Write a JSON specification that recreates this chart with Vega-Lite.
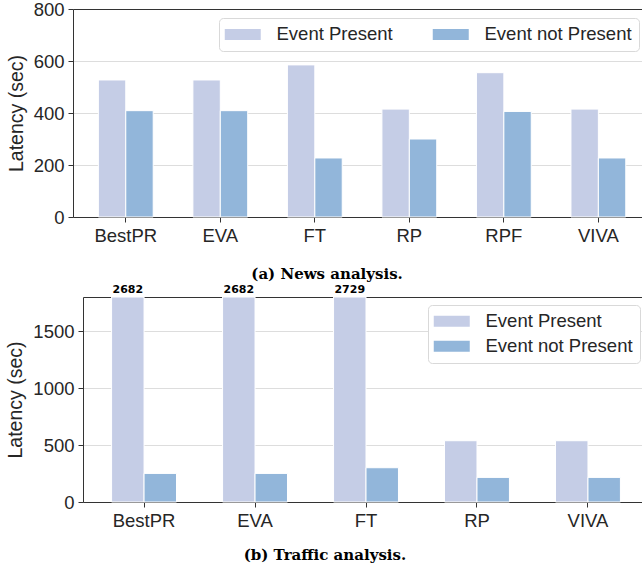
{
  "$schema": "https://vega.github.io/schema/vega-lite/v6.json",
  "background": "white",
  "padding": {"left": 5, "top": 0, "right": 0, "bottom": 0},
  "datasets": {
    "news": [
      {"system": "BestPR", "event": "Event Present", "latency": 527},
      {"system": "BestPR", "event": "Event not Present", "latency": 409},
      {"system": "EVA", "event": "Event Present", "latency": 527},
      {"system": "EVA", "event": "Event not Present", "latency": 409},
      {"system": "FT", "event": "Event Present", "latency": 585},
      {"system": "FT", "event": "Event not Present", "latency": 227},
      {"system": "RP", "event": "Event Present", "latency": 415},
      {"system": "RP", "event": "Event not Present", "latency": 300},
      {"system": "RPF", "event": "Event Present", "latency": 555},
      {"system": "RPF", "event": "Event not Present", "latency": 406},
      {"system": "VIVA", "event": "Event Present", "latency": 415},
      {"system": "VIVA", "event": "Event not Present", "latency": 227}
    ],
    "traffic": [
      {"system": "BestPR", "event": "Event Present", "latency": 2682},
      {"system": "BestPR", "event": "Event not Present", "latency": 251},
      {"system": "EVA", "event": "Event Present", "latency": 2682},
      {"system": "EVA", "event": "Event not Present", "latency": 251},
      {"system": "FT", "event": "Event Present", "latency": 2729},
      {"system": "FT", "event": "Event not Present", "latency": 301},
      {"system": "RP", "event": "Event Present", "latency": 538},
      {"system": "RP", "event": "Event not Present", "latency": 216},
      {"system": "VIVA", "event": "Event Present", "latency": 538},
      {"system": "VIVA", "event": "Event not Present", "latency": 216}
    ]
  },
  "config": {
    "view": {"stroke": null},
    "font": "Liberation Sans",
    "axis": {
      "labelFont": "Liberation Sans", "labelFontSize": 18.5, "labelColor": "#262626",
      "titleFont": "Liberation Sans", "titleFontSize": 19.5, "titleFontWeight": "normal", "titleColor": "#262626",
      "domainColor": "#333333", "tickColor": "#333333", "tickSize": 5, "labelPadding": 4,
      "gridColor": "#dddddd", "gridWidth": 1
    },
    "axisY": {"titlePadding": 7, "format": "d"},
    "axisX": {"grid": false, "labelAngle": 0},
    "legend": {
      "title": null,
      "symbolType": "M-1.909,-1H4.636V1H-1.909Z",
      "symbolSize": 121,
      "symbolStrokeWidth": 0,
      "symbolOpacity": 1,
      "labelFont": "Liberation Sans", "labelFontSize": 18.5, "labelColor": "#262626",
      "labelOffset": 32,
      "strokeColor": "#d9d9d9", "fillColor": "white", "cornerRadius": 4, "padding": 7
    },
    "title": {"font": "DejaVu Serif", "fontWeight": "bold", "fontSize": 15, "color": "#000000", "anchor": "middle", "frame": "bounds"}
  },
  "concat": [
    {
      "width": 569, "height": 208,
      "data": {"name": "news"},
      "title": {"text": "(a) News analysis.", "orient": "bottom", "offset": 22, "dx": 3},
      "layer": [
        {
          "mark": {"type": "bar", "stroke": "white", "strokeWidth": 1},
          "encoding": {
            "x": {"field": "system", "type": "nominal", "sort": null,
                  "scale": {"paddingInner": 0.42, "paddingOuter": 0.22, "align": 0.61},
                  "axis": {"title": null}},
            "xOffset": {"field": "event", "type": "nominal", "sort": ["Event Present", "Event not Present"], "scale": {"paddingInner": 0}},
            "y": {"field": "latency", "type": "quantitative", "scale": {"domain": [0, 800], "nice": false, "clamp": true},
                  "axis": {"title": "Latency (sec)", "values": [0, 200, 400, 600, 800]}},
            "color": {"field": "event", "type": "nominal", "sort": ["Event Present", "Event not Present"],
                      "scale": {"range": ["#c5cde6", "#92b6da"]},
                      "legend": {"orient": "none", "legendX": 146, "legendY": 9, "direction": "horizontal", "columns": 2, "columnPadding": 39}}
          }
        },
        {
          "transform": [{"filter": "datum.latency > 800"}],
          "mark": {"type": "text", "baseline": "bottom", "dy": -2, "font": "DejaVu Sans", "fontWeight": "bold", "fontSize": 11, "color": "#000000"},
          "encoding": {
            "x": {"field": "system", "type": "nominal", "sort": null,
                  "axis": {"orient": "top", "labels": false, "ticks": false, "title": null, "domain": true, "grid": false}},
            "xOffset": {"field": "event", "type": "nominal", "sort": ["Event Present", "Event not Present"]},
            "y": {"field": "latency", "type": "quantitative",
                  "axis": {"title": "Latency (sec)", "values": [0, 200, 400, 600, 800]}},
            "text": {"field": "latency", "type": "quantitative", "format": "d"}
          }
        }
      ],
      "resolve": {"axis": {"x": "independent"}}
    },
    {
      "width": 569, "height": 205,
      "data": {"name": "traffic"},
      "title": {"text": "(b) Traffic analysis.", "orient": "bottom", "offset": 18, "dx": 1},
      "layer": [
        {
          "mark": {"type": "bar", "stroke": "white", "strokeWidth": 1},
          "encoding": {
            "x": {"field": "system", "type": "nominal", "sort": null,
                  "scale": {"range": [10, 569], "paddingInner": 0.415, "paddingOuter": 0.226, "align": 0.57},
                  "axis": {"title": null}},
            "xOffset": {"field": "event", "type": "nominal", "sort": ["Event Present", "Event not Present"], "scale": {"paddingInner": 0}},
            "y": {"field": "latency", "type": "quantitative", "scale": {"domain": [0, 1800], "nice": false, "clamp": true},
                  "axis": {"title": "Latency (sec)", "values": [0, 500, 1000, 1500], "offset": -10}},
            "color": {"field": "event", "type": "nominal", "sort": ["Event Present", "Event not Present"],
                      "scale": {"range": ["#c5cde6", "#92b6da"]},
                      "legend": {"orient": "none", "legendX": 355, "legendY": 8, "direction": "vertical", "rowPadding": 6}}
          }
        },
        {
          "transform": [{"filter": "datum.latency > 1800"}],
          "mark": {"type": "text", "baseline": "bottom", "dy": -2, "font": "DejaVu Sans", "fontWeight": "bold", "fontSize": 11, "color": "#000000"},
          "encoding": {
            "x": {"field": "system", "type": "nominal", "sort": null,
                  "axis": {"orient": "top", "labels": false, "ticks": false, "title": null, "domain": true, "grid": false}},
            "xOffset": {"field": "event", "type": "nominal", "sort": ["Event Present", "Event not Present"]},
            "y": {"field": "latency", "type": "quantitative",
                  "axis": {"title": "Latency (sec)", "values": [0, 500, 1000, 1500], "offset": -10}},
            "text": {"field": "latency", "type": "quantitative", "format": "d"}
          }
        }
      ],
      "resolve": {"axis": {"x": "independent"}}
    }
  ],
  "columns": 1,
  "spacing": 2,
  "resolve": {"scale": {"color": "independent", "xOffset": "independent", "x": "independent", "y": "independent"}, "legend": {"color": "independent"}}
}
